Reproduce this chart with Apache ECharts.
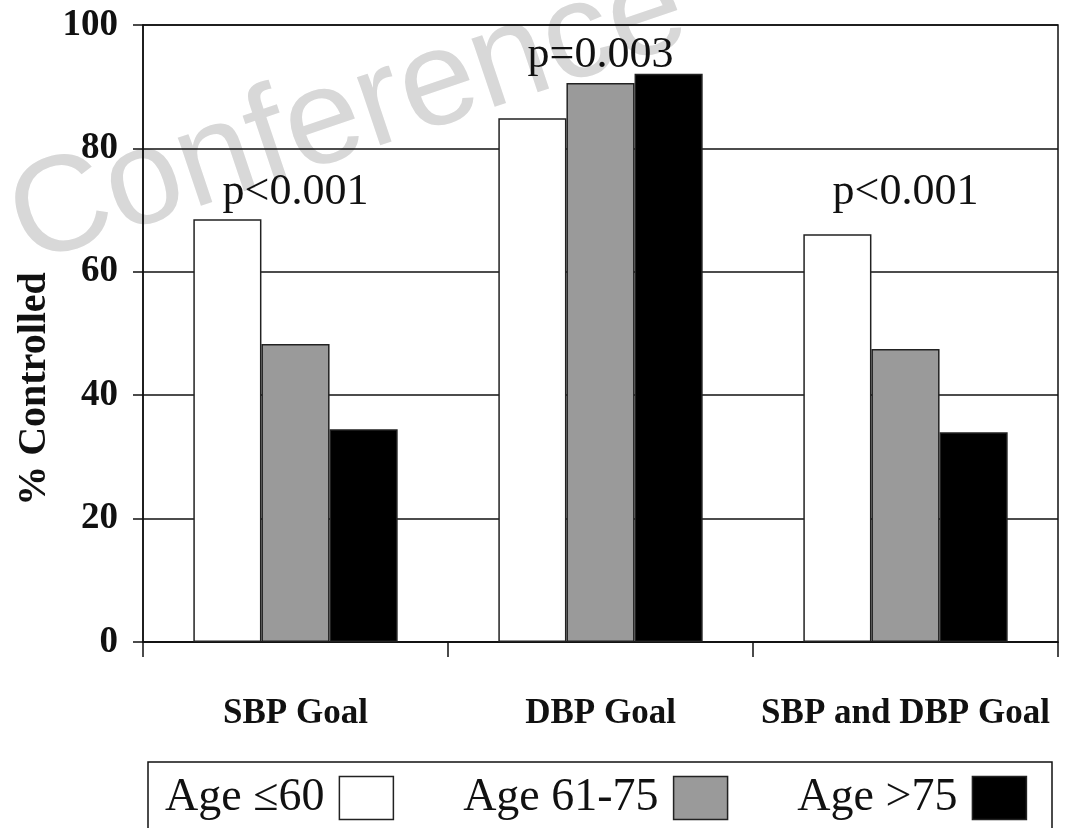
<!DOCTYPE html>
<html>
<head>
<meta charset="utf-8">
<script src="https://cdn.jsdelivr.net/npm/echarts@6/dist/echarts.min.js"></script>
<style>
  html, body { margin: 0; padding: 0; background: #fff; }
  #chart { width: 1081px; height: 828px; }
</style>
</head>
<body>
<div id="chart"></div>
<script>
const categories = ['SBP Goal', 'DBP Goal', 'SBP and DBP Goal'];
const seriesNames = ['Age \u226460', 'Age 61-75', 'Age >75'];
const ageLe60 = [68.5, 84.9, 66.1];
const age61to75 = [48.3, 90.6, 47.5];
const ageGt75 = [34.5, 92.1, 34.0];
const yTickValues = [0, 20, 40, 60, 80, 100];
const pTexts = ['p<0.001', 'p=0.003', 'p<0.001'];
const pLevels = [72.8, 95.0, 72.8];
const yAxisTitle = '% Controlled';
const watermarkText = 'Conference';

const SERIF = "'Liberation Serif', 'Times New Roman', serif";
const INK = '#111';
const fills = ['#ffffff', '#9a9a9a', '#000000'];
const seriesData = [ageLe60, age61to75, ageGt75];

const chart = echarts.init(document.getElementById('chart'), null, { renderer: 'canvas' });

const series = seriesNames.map((name, i) => ({
  name: name,
  type: 'bar',
  data: seriesData[i],
  barGap: '0%',
  barCategoryGap: '33%',
  itemStyle: { color: fills[i], borderColor: '#222', borderWidth: 1.5 },
  emphasis: { disabled: true },
  z: 2
}));

series[1].markPoint = {
  symbol: 'circle',
  symbolSize: 1,
  itemStyle: { color: 'rgba(0,0,0,0)' },
  silent: true,
  label: {
    show: true,
    position: 'inside',
    formatter: '{b}',
    fontFamily: SERIF,
    fontSize: 44,
    color: INK
  },
  data: pTexts.map((t, i) => ({ name: t, coord: [i, pLevels[i]] }))
};

const option = {
  backgroundColor: '#ffffff',
  animation: false,
  grid: {
    left: 143, right: 23, top: 25, bottom: 186,
    show: true, borderColor: INK, borderWidth: 1.5,
    backgroundColor: 'rgba(0,0,0,0)',
    containLabel: false,
    outerBoundsMode: 'none'
  },
  xAxis: {
    type: 'category',
    data: categories,
    axisLine: { show: true, lineStyle: { color: INK, width: 1.5 } },
    axisTick: { show: true, inside: false, interval: 0, length: 15, lineStyle: { color: INK, width: 1.5 } },
    axisLabel: {
      interval: 0,
      hideOverlap: false,
      margin: 54,
      fontFamily: SERIF,
      fontWeight: 'bold',
      fontSize: 35,
      color: INK
    },
    splitLine: { show: false }
  },
  yAxis: {
    type: 'value',
    min: yTickValues[0],
    max: yTickValues[yTickValues.length - 1],
    interval: yTickValues[1] - yTickValues[0],
    axisLine: { show: true, lineStyle: { color: INK, width: 1.5 } },
    axisTick: { show: true, inside: false, length: 10, lineStyle: { color: INK, width: 1.5 } },
    axisLabel: {
      margin: 25,
      fontFamily: SERIF,
      fontWeight: 'bold',
      fontSize: 37,
      color: INK
    },
    splitLine: { show: true, lineStyle: { color: INK, width: 1.5 } }
  },
  legend: {
    data: seriesNames.map((n, i) => ({
      name: n,
      icon: 'rect',
      itemStyle: { color: fills[i], borderColor: '#222', borderWidth: 1.5 }
    })),
    align: 'right',
    left: 165,
    top: 775,
    itemWidth: 54,
    itemHeight: 43,
    itemGap: 69,
    padding: 0,
    selectedMode: false,
    textStyle: {
      fontFamily: SERIF,
      fontSize: 46,
      color: INK,
      padding: [0, 10, 0, 0]
    }
  },
  graphic: [
    {
      type: 'text',
      z: -10,
      silent: true,
      x: 37,
      y: 293,
      rotation: 18.6 * Math.PI / 180,
      style: {
        text: watermarkText,
        fill: '#d8d8d8',
        font: "136px 'Liberation Sans', Arial, sans-serif",
        textAlign: 'left',
        textVerticalAlign: 'bottom',
        verticalAlign: 'bottom'
      }
    },
    {
      type: 'text',
      silent: true,
      x: 35,
      y: 389,
      rotation: Math.PI / 2,
      style: {
        text: yAxisTitle,
        fill: INK,
        font: "bold 40px 'Liberation Serif', 'Times New Roman', serif",
        textAlign: 'center',
        textVerticalAlign: 'middle',
        verticalAlign: 'middle'
      }
    },
    {
      type: 'rect',
      silent: true,
      shape: { x: 148, y: 762, width: 904, height: 90 },
      style: { fill: 'rgba(0,0,0,0)', stroke: INK, lineWidth: 1.5 }
    }
  ],
  series: series
};

chart.setOption(option);
</script>
</body>
</html>
